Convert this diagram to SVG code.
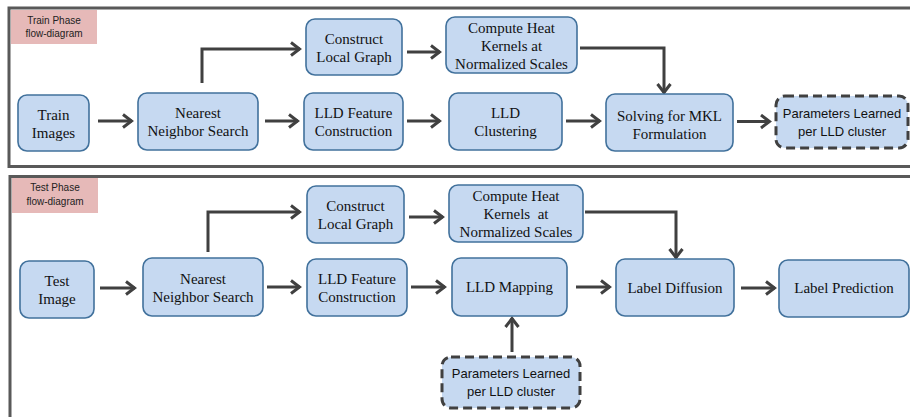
<svg xmlns="http://www.w3.org/2000/svg" width="910" height="417" viewBox="0 0 910 417">
<style>
.frame{fill:none;stroke:#595959;stroke-width:3}
.tag{fill:#e6b9b8}
.tagt{font-family:"Liberation Sans",Arial,sans-serif;font-size:10px;fill:#222;text-anchor:middle}
.box{fill:#c6d9f1;stroke:#41719c;stroke-width:1.6}
.dbox{fill:#c6d9f1;stroke:#404040;stroke-width:3;stroke-dasharray:9 5}
.t{font-family:"Liberation Serif","Times New Roman",serif;font-size:15px;fill:#111;text-anchor:middle}
.s{font-family:"Liberation Sans",Arial,sans-serif;font-size:13px;fill:#111;text-anchor:middle}
.c{fill:none;stroke:#404040;stroke-width:3;marker-end:url(#ah)}
</style>
<defs>
<marker id="ah" markerUnits="userSpaceOnUse" viewBox="0 0 13 16" refX="11" refY="8" markerWidth="13" markerHeight="16" orient="auto">
<path d="M2,1.5 L10.5,8 L2,14.5" fill="none" stroke="#404040" stroke-width="3"/>
</marker>
</defs>
<rect width="910" height="417" fill="#fff"/>
<g id="frames">
<rect class="frame" x="9" y="8" width="930" height="158.5"/>
<rect class="frame" x="10" y="176.5" width="930" height="260"/>
</g>
<g id="train-tag">
<rect class="tag" x="11" y="10" width="86" height="34"/>
<text class="tagt" x="54" y="24">Train Phase</text>
<text class="tagt" x="54" y="37">flow-diagram</text>
</g>
<g id="test-tag">
<rect class="tag" x="12" y="178" width="86" height="35"/>
<text class="tagt" x="55" y="191">Test Phase</text>
<text class="tagt" x="55" y="205">flow-diagram</text>
</g>
<g id="connectors">
<path class="c" d="M98,121 H132"/>
<path class="c" d="M265,121 H298"/>
<path class="c" d="M202,83 V49 H300"/>
<path class="c" d="M407,52 H440"/>
<path class="c" d="M580,48 H664 V93"/>
<path class="c" d="M407,121 H440"/>
<path class="c" d="M566,121 H600"/>
<path class="c" d="M737,121.5 H770"/>
<path class="c" d="M100,288 H135"/>
<path class="c" d="M267,287 H300"/>
<path class="c" d="M208,252 V212 H300"/>
<path class="c" d="M409,217 H443"/>
<path class="c" d="M585,212 H676 V258"/>
<path class="c" d="M411,287 H445"/>
<path class="c" d="M576,287 H610"/>
<path class="c" d="M741,288 H775"/>
<path class="c" d="M512,352 V318"/>
</g>
<g id="train-images"><rect class="box" x="18" y="95" width="71" height="56" rx="9"/><text class="t" x="53.5" y="120">Train</text><text class="t" x="53.5" y="138">Images</text></g>
<g id="train-nns"><rect class="box" x="138" y="93" width="120" height="57" rx="9"/><text class="t" x="198" y="118">Nearest</text><text class="t" x="198" y="136">Neighbor Search</text></g>
<g id="train-construct"><rect class="box" x="306" y="19" width="96" height="56" rx="9"/><text class="t" x="354" y="44">Construct</text><text class="t" x="354" y="62">Local Graph</text></g>
<g id="train-compute"><rect class="box" x="446" y="17" width="131" height="56" rx="9"/><text class="t" x="511.5" y="33">Compute Heat</text><text class="t" x="511.5" y="51">Kernels at</text><text class="t" x="511.5" y="69">Normalized Scales</text></g>
<g id="train-lldfeat"><rect class="box" x="304" y="93" width="99" height="57" rx="9"/><text class="t" x="353.5" y="118">LLD Feature</text><text class="t" x="353.5" y="136">Construction</text></g>
<g id="train-lldclust"><rect class="box" x="449" y="93" width="113" height="57" rx="9"/><text class="t" x="505.5" y="118">LLD</text><text class="t" x="505.5" y="136">Clustering</text></g>
<g id="train-mkl"><rect class="box" x="606" y="94" width="127" height="57" rx="9"/><text class="t" x="669.5" y="121">Solving for MKL</text><text class="t" x="669.5" y="139">Formulation</text></g>
<g id="train-params"><rect class="dbox" x="776" y="96" width="132" height="52" rx="9"/><text class="s" x="842" y="118">Parameters Learned</text><text class="s" x="842" y="136">per LLD cluster</text></g>
<g id="test-image"><rect class="box" x="20" y="261" width="74" height="57" rx="9"/><text class="t" x="57" y="286">Test</text><text class="t" x="57" y="304">Image</text></g>
<g id="test-nns"><rect class="box" x="143" y="258" width="120" height="58" rx="9"/><text class="t" x="203" y="284">Nearest</text><text class="t" x="203" y="302">Neighbor Search</text></g>
<g id="test-construct"><rect class="box" x="307" y="186" width="97" height="57" rx="9"/><text class="t" x="355.5" y="211">Construct</text><text class="t" x="355.5" y="229">Local Graph</text></g>
<g id="test-compute"><rect class="box" x="449" y="185" width="134" height="57" rx="9"/><text class="t" x="516" y="201">Compute Heat</text><text class="t" x="516" y="219" xml:space="preserve">Kernels  at</text><text class="t" x="516" y="237">Normalized Scales</text></g>
<g id="test-lldfeat"><rect class="box" x="307" y="259" width="100" height="57" rx="9"/><text class="t" x="357" y="284">LLD Feature</text><text class="t" x="357" y="302">Construction</text></g>
<g id="test-lldmap"><rect class="box" x="452" y="258" width="115" height="58" rx="9"/><text class="t" x="509.5" y="292">LLD Mapping</text></g>
<g id="test-diffusion"><rect class="box" x="616" y="259" width="118" height="57" rx="9"/><text class="t" x="675" y="293">Label Diffusion</text></g>
<g id="test-prediction"><rect class="box" x="779" y="260" width="130" height="57" rx="9"/><text class="t" x="844" y="293">Label Prediction</text></g>
<g id="test-params"><rect class="dbox" x="442" y="357" width="138" height="51" rx="9"/><text class="s" x="511" y="378">Parameters Learned</text><text class="s" x="511" y="396">per LLD cluster</text></g>
</svg>
